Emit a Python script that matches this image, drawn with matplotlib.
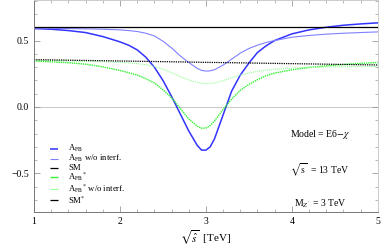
import matplotlib.pyplot as plt
from matplotlib.ticker import MultipleLocator

# sqrt(s-hat) in TeV
x = [1.0, 1.2, 1.4, 1.6, 1.8, 2.0, 2.1, 2.2, 2.3, 2.4, 2.5, 2.6, 2.7, 2.8, 2.9, 2.95,
     3.0, 3.05, 3.1, 3.2, 3.3, 3.4, 3.5, 3.6, 3.7, 3.8, 4.0, 4.2, 4.4, 4.6, 4.8, 5.0]

afb = [0.59, 0.585, 0.575, 0.56, 0.53, 0.49, 0.465, 0.43, 0.375, 0.30, 0.20, 0.08,
       -0.05, -0.18, -0.29, -0.325, -0.325, -0.30, -0.24, -0.06, 0.12, 0.24, 0.33,
       0.41, 0.46, 0.50, 0.55, 0.58, 0.60, 0.615, 0.625, 0.633]
afb_noint = [0.593, 0.592, 0.59, 0.588, 0.585, 0.58, 0.575, 0.568, 0.555, 0.535, 0.495,
             0.445, 0.385, 0.335, 0.29, 0.275, 0.27, 0.272, 0.28, 0.315, 0.36, 0.405,
             0.44, 0.465, 0.485, 0.50, 0.525, 0.538, 0.548, 0.555, 0.56, 0.565]
sm = [0.6] * len(x)
afb_star = [0.345, 0.34, 0.333, 0.322, 0.302, 0.275, 0.258, 0.24, 0.213, 0.18, 0.13,
            0.07, -0.01, -0.09, -0.145, -0.16, -0.158, -0.14, -0.105, -0.02, 0.06,
            0.125, 0.17, 0.205, 0.235, 0.255, 0.28, 0.297, 0.31, 0.32, 0.328, 0.335]
afb_star_noint = [0.35, 0.349, 0.347, 0.344, 0.34, 0.335, 0.332, 0.326, 0.318, 0.305,
                  0.285, 0.258, 0.228, 0.203, 0.185, 0.178, 0.175, 0.176, 0.18, 0.198,
                  0.22, 0.24, 0.255, 0.268, 0.277, 0.284, 0.293, 0.298, 0.301, 0.303,
                  0.304, 0.305]
sm_star = [0.356, 0.354, 0.352, 0.35, 0.348, 0.346, 0.345, 0.344, 0.343, 0.342, 0.341,
           0.34, 0.339, 0.338, 0.337, 0.336, 0.336, 0.335, 0.335, 0.334, 0.333, 0.332,
           0.331, 0.33, 0.329, 0.328, 0.326, 0.324, 0.322, 0.32, 0.318, 0.316]

labels = [r'A$_{\rm FB}$', r'A$_{\rm FB}$ w/o interf.', 'SM',
          r'A$_{\rm FB}$$^{*}$', r'A$_{\rm FB}$$^{*}$ w/o interf.', r'SM$^{*}$']

plt.rcParams['font.family'] = ['Liberation Serif', 'DejaVu Serif']
plt.rcParams['mathtext.fontset'] = 'stix'

fig = plt.figure(figsize=(3.82, 2.47), dpi=100)
ax = fig.add_axes([0.089, 0.142, 0.9, 0.858])

ax.axhline(0, color='#cccccc', lw=0.8, zorder=0)

styles = [
    dict(color='#3333ff', lw=1.1, ls='-'),
    dict(color='#8080ff', lw=0.8, ls='-'),
    dict(color='black', lw=0.9, ls='-'),
    dict(color='#33ee33', lw=1.0, ls=(0, (1, 0.6))),
    dict(color='#99ff99', lw=0.8, ls=(0, (1, 0.8))),
    dict(color='black', lw=0.9, ls=(0, (1, 0.8))),
]
series = [afb, afb_noint, sm, afb_star, afb_star_noint, sm_star]
for ys, st in zip(series, styles):
    ax.plot(x, ys, **st)

# legend drawn by hand so the rows sit tight like the original
rows = [0.298, 0.252, 0.209, 0.166, 0.109, 0.057]
for yy, lab, st in zip(rows, labels, styles):
    ax.plot([0.047, 0.070], [yy, yy], transform=ax.transAxes, color=st['color'],
            lw=st['lw'], solid_capstyle='butt')
    ax.text(0.099, yy, lab, transform=ax.transAxes, fontsize=6.2, va='center')

ax.set_xlim(1, 5)
ax.set_ylim(-0.79, 0.805)
ax.xaxis.set_major_locator(MultipleLocator(1))
ax.xaxis.set_minor_locator(MultipleLocator(0.2))
ax.yaxis.set_major_locator(MultipleLocator(0.5))
ax.yaxis.set_minor_locator(MultipleLocator(0.1))
ax.tick_params(which='both', direction='in', top=True, right=True, labelsize=7,
               color='#999999')
ax.tick_params(which='major', length=4, width=0.6)
ax.tick_params(which='minor', length=2, width=0.5)
for side in ['left', 'bottom']:
    ax.spines[side].set_color('#777777')
    ax.spines[side].set_linewidth(0.7)
for side in ['top', 'right']:
    ax.spines[side].set_color('#cccccc')
    ax.spines[side].set_linewidth(0.7)

ax.set_xlabel(r'$\sqrt{\hat{s}}$  [TeV]', fontsize=8, labelpad=2)

ax.text(4.33, -0.205, r'Model = E6$-\chi$', fontsize=7, ha='center', va='center')
ax.text(4.33, -0.47, r'$\sqrt{\rm s}$  = 13 TeV', fontsize=7, ha='center', va='center')
ax.text(4.33, -0.73, r"M$_{Z'}$ = 3 TeV", fontsize=7, ha='center', va='center')

fig.savefig('out.png', dpi=100)
